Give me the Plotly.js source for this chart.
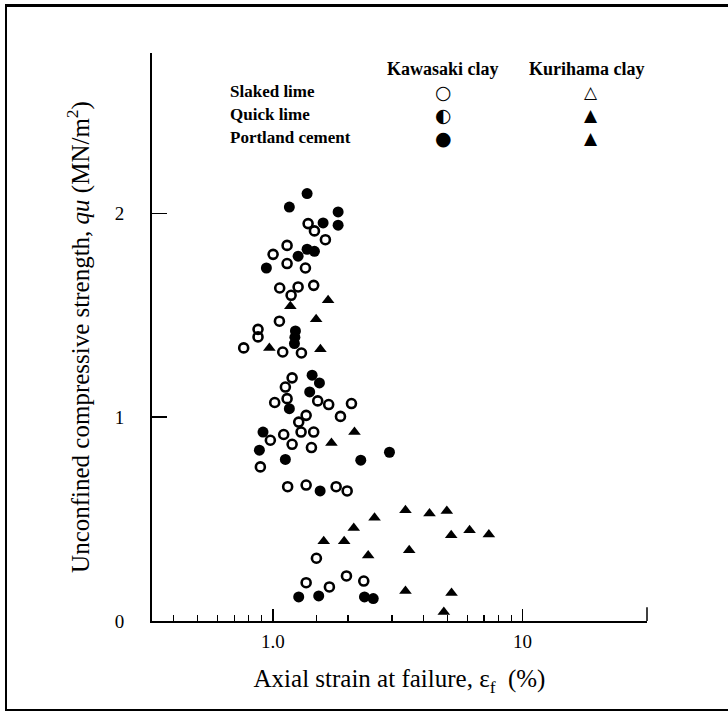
<!DOCTYPE html>
<html>
<head>
<meta charset="utf-8">
<script src="https://cdn.plot.ly/plotly-3.0.1.min.js"></script>
<style>
  html, body { margin: 0; padding: 0; background: #fff; }
  #wrap { position: relative; width: 728px; height: 712px; }
  #chart { position: absolute; left: 0; top: 0; width: 728px; height: 712px; }
  #frame {
    position: absolute; left: 5px; top: 4px; width: 730px; height: 702px;
    border-left: 2px solid #000; border-top: 3px solid #000; border-bottom: 2px solid #000;
    pointer-events: none;
  }
</style>
</head>
<body>
<div id="wrap">
  <div id="chart"></div>
  <div id="frame"></div>
</div>
<script>
// Axial strain at failure (%) and unconfined compressive strength qu (MN/m2)

// Kawasaki clay, slaked lime
const kawaSlakedStrain = [1.384, 1.467, 1.623, 1.140, 1.002, 1.140, 1.350, 1.457, 1.065, 1.262,
  1.183, 1.062, 0.872, 0.872, 0.764, 1.095, 1.301, 1.194, 1.122, 1.017,
  1.140, 1.512, 1.673, 2.064, 1.359, 1.865, 1.269, 1.105, 1.297, 1.457,
  0.977, 1.194, 1.427, 0.891, 1.146, 1.359, 1.792, 1.984, 1.494, 1.971,
  1.359, 2.312, 1.684];
const kawaSlakedQu = [1.950, 1.914, 1.871, 1.843, 1.799, 1.754, 1.732, 1.647, 1.634, 1.639,
  1.598, 1.471, 1.431, 1.394, 1.340, 1.320, 1.315, 1.193, 1.148, 1.072,
  1.091, 1.080, 1.062, 1.067, 1.009, 1.004, 0.976, 0.915, 0.927, 0.927,
  0.887, 0.867, 0.851, 0.756, 0.659, 0.667, 0.659, 0.638, 0.308, 0.221,
  0.188, 0.196, 0.167];

// Kawasaki clay, Portland cement
const kawaCementStrain = [1.371, 1.164, 1.825, 1.589, 1.825, 1.371, 1.467, 1.262, 0.942, 1.231,
  1.225, 1.220, 1.436, 1.536, 1.404, 1.164, 0.913, 0.883, 2.930, 1.122,
  2.249, 1.546, 1.269, 1.526, 2.327, 2.523];
const kawaCementQu = [2.097, 2.031, 2.007, 1.953, 1.942, 1.824, 1.814, 1.790, 1.732, 1.423,
  1.392, 1.361, 1.206, 1.168, 1.124, 1.042, 0.927, 0.838, 0.828, 0.793,
  0.789, 0.638, 0.118, 0.123, 0.118, 0.110];

// Kurihama clay
const kuriStrain = [1.664, 1.175, 1.490, 0.968, 1.550, 2.122, 1.716, 3.396, 4.239, 4.973,
  2.553, 2.108, 6.133, 5.178, 7.327, 1.598, 1.930, 3.515, 2.408, 3.396,
  5.193, 4.837];
const kuriQu = [1.574, 1.544, 1.480, 1.340, 1.333, 0.927, 0.873, 0.543, 0.527, 0.540,
  0.507, 0.456, 0.445, 0.421, 0.425, 0.391, 0.391, 0.347, 0.322, 0.147,
  0.137, 0.044];

// Axis ticks
const xTickVals = [1, 10];
const xTickText = ['1.0', '10'];
const xMinorVals = [0.4, 0.5, 0.6, 0.7, 0.8, 0.9, 1.5, 2, 3, 4, 5, 6, 7, 8, 9];
const yTickVals = [0, 1, 2];
const yTickText = ['0', '1', '2'];

// Key: column headers, row labels and symbols
const keyColumns = ['Kawasaki clay', 'Kurihama clay'];
const keyRows = ['Slaked lime', 'Quick lime', 'Portland cement'];
const keyCircles = ['○', '◐', '●'];
const keyTriangles = ['△', '▲', '▲'];

const serif = 'Liberation Serif, Times New Roman, serif';
const ink = '#000';

const traces = [
  {
    x: kawaSlakedStrain, y: kawaSlakedQu, type: 'scatter', mode: 'markers',
    marker: { symbol: 'circle-open', size: 9, color: ink, line: { width: 2.6, color: ink } },
    hoverinfo: 'skip'
  },
  {
    x: kawaCementStrain, y: kawaCementQu, type: 'scatter', mode: 'markers',
    marker: { symbol: 'circle', size: 11, color: ink },
    hoverinfo: 'skip'
  },
  {
    x: kuriStrain, y: kuriQu, type: 'scatter', mode: 'markers',
    marker: { symbol: 'triangle-up', size: 11, color: ink },
    hoverinfo: 'skip'
  }
];

// Key laid out in paper coordinates of the plot area
const annotations = [];
const colX = [0.587, 0.878];
const headY = 0.972, rowY = [0.932, 0.891, 0.851];
keyColumns.forEach((t, i) => annotations.push({
  xref: 'paper', yref: 'paper', x: colX[i], y: headY, text: t, showarrow: false,
  xanchor: 'center', yanchor: 'middle', font: { family: serif, size: 18, weight: 'bold', color: ink }
}));
keyRows.forEach((t, i) => {
  annotations.push({
    xref: 'paper', yref: 'paper', x: 0.153, y: rowY[i], text: t, showarrow: false,
    xanchor: 'left', yanchor: 'middle', font: { family: serif, size: 17, weight: 'bold', color: ink }
  });
  annotations.push({
    xref: 'paper', yref: 'paper', x: 0.588, y: rowY[i], text: '<b>' + keyCircles[i] + '</b>', showarrow: false,
    xanchor: 'center', yanchor: 'middle', font: { family: 'DejaVu Sans', size: 19, color: ink }
  });
  annotations.push({
    xref: 'paper', yref: 'paper', x: 0.887, y: rowY[i], text: '<b>' + keyTriangles[i] + '</b>', showarrow: false,
    xanchor: 'center', yanchor: 'middle', font: { family: 'DejaVu Sans', size: 17, color: ink }
  });
});

const layout = {
  width: 728, height: 712,
  margin: { l: 152, r: 81, t: 53, b: 91, pad: 0 },
  paper_bgcolor: '#fff', plot_bgcolor: '#fff',
  showlegend: false,
  font: { family: serif, color: ink },
  xaxis: {
    type: 'log', range: [Math.log10(0.328), Math.log10(31.5)],
    showline: true, linecolor: ink, linewidth: 2,
    showgrid: false, zeroline: false,
    ticks: 'inside', ticklen: 12, tickwidth: 1.5, tickcolor: ink,
    tickmode: 'array', tickvals: xTickVals, ticktext: xTickText,
    tickfont: { family: serif, size: 19, color: ink },
    ticklabelstandoff: 2,
    minor: { tickmode: 'array', tickvals: xMinorVals, ticks: 'inside', ticklen: 6, tickwidth: 1.2, tickcolor: ink, showgrid: false },
    title: { text: 'Axial strain at failure, ε<sub>f</sub>  (%)', font: { family: serif, size: 25, color: ink }, standoff: 19 }
  },
  yaxis: {
    range: [0, 2.787],
    showline: true, linecolor: ink, linewidth: 2,
    showgrid: false, zeroline: false,
    ticks: 'inside', ticklen: 15, tickwidth: 1.5, tickcolor: ink,
    tickmode: 'array', tickvals: yTickVals, ticktext: yTickText,
    tickfont: { family: serif, size: 19, color: ink },
    ticklabelstandoff: 22,
    title: { text: 'Unconfined compressive strength, <i>qu</i> (MN/m<sup>2</sup>)', font: { family: serif, size: 25, color: ink }, standoff: 18 }
  },
  // upward end tick closing the strain axis on the right
  shapes: [{
    type: 'line', xref: 'paper', yref: 'paper', x0: 1, x1: 1, y0: 0, y1: 0.024,
    line: { color: ink, width: 1.5 }
  }],
  annotations: annotations
};

Plotly.newPlot('chart', traces, layout, { displayModeBar: false, staticPlot: true });
</script>
</body>
</html>
